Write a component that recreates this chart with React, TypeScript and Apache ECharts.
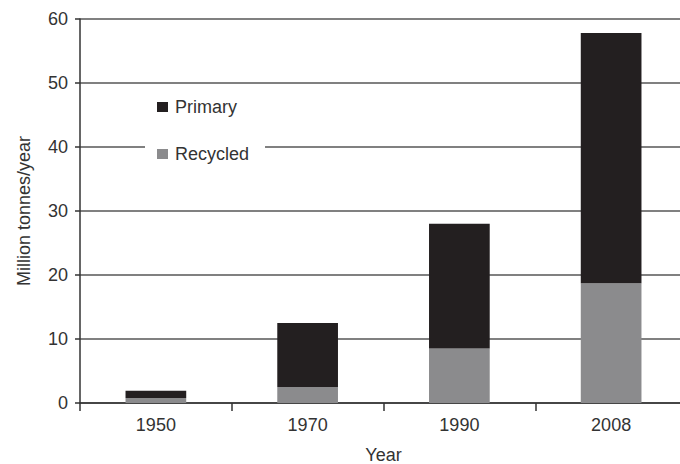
import React, { useEffect, useRef } from "react";
import * as echarts from "echarts";

const categories = ["1950", "1970", "1990", "2008"];
const recycled = [0.8, 2.5, 8.5, 18.7];
const primary = [1.1, 10.0, 19.5, 39.1];
const yTicks = { min: 0, max: 60, interval: 10 };

const FONT = "Liberation Sans, Arial, Helvetica, sans-serif";
const TEXT = "#333333";
const FS = 18;

export default function App() {
  const ref = useRef<HTMLDivElement>(null);
  useEffect(() => {
    if (!ref.current) return;
    const chart = echarts.init(ref.current, undefined, { renderer: "svg" });
    chart.setOption({
      animation: false,
      backgroundColor: "#ffffff",
      textStyle: { fontFamily: FONT },
      grid: {
        left: 80,
        right: -7,
        top: 19,
        bottom: 61,
        containLabel: false,
        outerBoundsMode: "none",
      },
      legend: {
        orient: "vertical",
        left: 145,
        top: 92,
        padding: [6, 16, 6, 12],
        itemGap: 29,
        itemWidth: 11,
        itemHeight: 10,
        backgroundColor: "#ffffff",
        icon: "rect",
        data: ["Primary", "Recycled"],
        textStyle: { fontFamily: FONT, fontSize: FS, color: TEXT, padding: [0, 0, 0, 2] },
      },
      xAxis: {
        type: "category",
        data: categories,
        name: "Year",
        nameLocation: "middle",
        nameGap: 43,
        nameTextStyle: { fontFamily: FONT, fontSize: FS, color: TEXT },
        axisLine: { lineStyle: { color: "#333333", width: 1.5 } },
        axisTick: { show: true, length: 8, lineStyle: { color: "#333333", width: 1.5 } },
        axisLabel: { margin: 13, fontFamily: FONT, fontSize: FS, color: TEXT },
        splitLine: { show: false },
      },
      yAxis: {
        type: "value",
        min: yTicks.min,
        max: yTicks.max,
        interval: yTicks.interval,
        name: "Million tonnes/year",
        nameLocation: "middle",
        nameGap: 47,
        nameRotate: 90,
        nameTextStyle: { fontFamily: FONT, fontSize: FS, color: TEXT },
        axisLine: { show: true, lineStyle: { color: "#333333", width: 1.5 } },
        axisTick: { show: true, length: 5, lineStyle: { color: "#333333", width: 1.5 } },
        axisLabel: { margin: 12, fontFamily: FONT, fontSize: FS, color: TEXT },
        splitLine: { show: true, lineStyle: { color: "#808080", width: 2 } },
      },
      series: [
        {
          name: "Recycled",
          type: "bar",
          stack: "total",
          barWidth: "40%",
          data: recycled,
          itemStyle: { color: "#8b8b8d" },
        },
        {
          name: "Primary",
          type: "bar",
          stack: "total",
          barWidth: "40%",
          data: primary,
          itemStyle: { color: "#231f20" },
        },
      ],
    });
    return () => chart.dispose();
  }, []);
  return (
    <div
      ref={ref}
      style={{ position: "fixed", left: 0, top: 0, width: 680, height: 464 }}
    />
  );
}
